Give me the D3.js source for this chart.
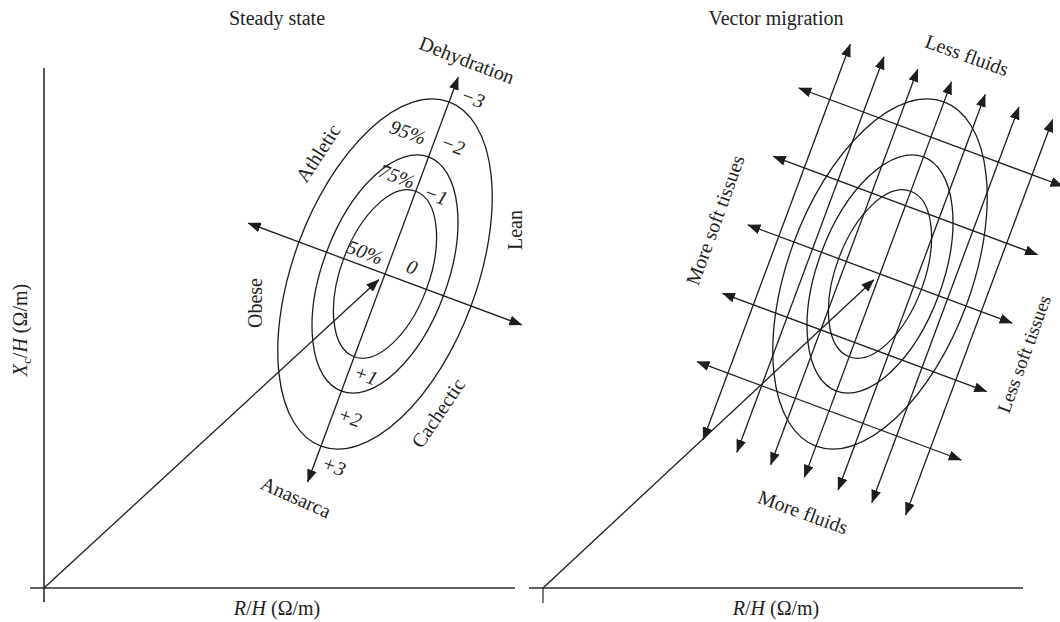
<!DOCTYPE html>
<html><head><meta charset="utf-8">
<script src="https://cdn.jsdelivr.net/npm/d3@7"></script>
<style>
body{margin:0;background:#fff}
svg{display:block}
text{font-family:"Liberation Serif","Times New Roman",serif;fill:#231f20}
</style>
</head><body><svg id="c" width="1060" height="622"></svg>
<script>
// ---------- data ----------
const panelTitles = ["Steady state", "Vector migration"];
const meanVectors = [[341, 314], [337, 314]];          // mean (R/H, Xc/H), arbitrary units
const axisTiltDeg = 20.4;                               // tilt of the major (hydration) axis
const sdMajor = 75, sdMinor = 37.5;                     // SD along major / minor axis
const ellipseLevels = ["50%", "75%", "95%"];
const ellipseRadii = [1.177, 1.665, 2.448];             // sqrt chi2(2) quantiles
const zLabels = ["\u22123", "\u22122", "\u22121", "0", "+1", "+2", "+3"];
const quadrantLabels = ["Athletic", "Lean", "Obese", "Cachectic"];
const trendLabels = ["Dehydration", "Anasarca"];
const migrationLabels = ["Less fluids", "More fluids", "More soft tissues", "Less soft tissues"];
const fluidLineOffsets = [-108, -72, -36, 0, 36, 72, 108];   // along minor axis
const tissueLineOffsets = [146, 73, 0, -73, -146];            // along major axis

// ---------- layout ----------
const svg = d3.select("#c");
const ink = "#1d1d1b";
const fs = 20;
const defs = svg.append("defs");
defs.append("marker").attr("id", "ah")
  .attr("viewBox", "0 0 13 10").attr("refX", 12.5).attr("refY", 5)
  .attr("markerWidth", 13).attr("markerHeight", 10)
  .attr("markerUnits", "userSpaceOnUse").attr("orient", "auto-start-reverse")
  .append("path").attr("d", "M0,0L13,5L0,10Z").attr("fill", ink);

const originsX = [44, 543];
const yScale = d3.scaleLinear().domain([0, 520]).range([588, 68]);
const xScales = originsX.map(o => d3.scaleLinear().domain([0, 480]).range([o, o + 480]));
const th = axisTiltDeg * Math.PI / 180;
const S = Math.sin(th), C = Math.cos(th);

function line(g, p1, p2, w, col, startArrow, endArrow) {
  const l = g.append("line").attr("x1", p1[0]).attr("y1", p1[1]).attr("x2", p2[0]).attr("y2", p2[1])
    .attr("stroke", col || ink).attr("stroke-width", w || 1.3);
  if (startArrow) l.attr("marker-start", "url(#ah)");
  if (endArrow) l.attr("marker-end", "url(#ah)");
  return l;
}
function label(g, txt, x, y, rot, italic, size) {
  return g.append("text").attr("x", x).attr("y", y)
    .attr("transform", `rotate(${rot},${x},${y})`)
    .attr("text-anchor", "middle").attr("dominant-baseline", "central")
    .attr("font-size", size || fs).attr("font-style", italic ? "italic" : "normal").text(txt);
}

panelTitles.forEach((title, i) => {
  const g = svg.append("g");
  const x = xScales[i], y = yScale;
  const k = x(1) - x(0);
  const [mx, my] = meanVectors[i];
  const cx = x(mx), cy = y(my);
  const ax = (d, p) => [cx + (d * S + p * C) * k, cy + (-d * C + p * S) * k];

  // title
  g.append("text").attr("x", x(233)).attr("y", 25).attr("text-anchor", "middle")
    .attr("font-size", fs).text(title);

  // axes
  if (i === 0) line(g, [x(0), y(520)], [x(0), y(-14)], 2, "#58585a");
  else line(g, [x(0), y(0)], [x(0), y(-15)], 1.6, "#58585a");
  line(g, [x(-14), y(0)], [x(i === 0 ? 471 : 480), y(0)], 1.6, "#2b2b2b");

  // x label
  const xl = g.append("text").attr("x", x(233)).attr("y", 615).attr("text-anchor", "middle").attr("font-size", fs);
  xl.append("tspan").attr("font-style", "italic").text("R");
  xl.append("tspan").text("/");
  xl.append("tspan").attr("font-style", "italic").text("H");
  xl.append("tspan").text(" (\u03a9/m)");

  // ellipses
  ellipseRadii.forEach(r => {
    g.append("ellipse").attr("cx", cx).attr("cy", cy)
      .attr("rx", r * sdMinor * k).attr("ry", r * sdMajor * k)
      .attr("transform", `rotate(${axisTiltDeg},${cx},${cy})`)
      .attr("fill", "none").attr("stroke", ink).attr("stroke-width", 1.3);
  });

  // impedance vector
  const f = 0.982;
  line(g, [x(0), y(0)], [x(mx * f), y(my * f)], 1.3, ink, false, true);

  if (i === 0) {
    line(g, ax(-222, 0), ax(210, 0), 1.3, ink, true, true);
    line(g, ax(0, -146), ax(0, 146), 1.3, ink, true, true);
    const rel = (dx, dy) => [cx + dx, cy + dy];
    // z-score labels
    const zOff = [[88, -176], [68, -129], [51, -79], [27, -7], [-19, 101], [-35, 143], [-51, 192]];
    zLabels.forEach((t, j) => { const p = rel(...zOff[j]); label(g, t, p[0], p[1], 20, true); });
    const pOff = [[-20, -22], [12, -98], [23, -142]];
    ellipseLevels.forEach((t, j) => { const p = rel(...pOff[j]); label(g, t, p[0], p[1], 20, true); });
    const qOff = [[[-67, -121], -57], [[130, -44], -90], [[-130, 29], -90], [[53, 139], -56]];
    quadrantLabels.forEach((t, j) => { const p = rel(...qOff[j][0]); label(g, t, p[0], p[1], qOff[j][1]); });
    const tOff = [[[82, -214], 21], [[-89, 223], 24]];
    trendLabels.forEach((t, j) => { const p = rel(...tOff[j][0]); label(g, t, p[0], p[1], tOff[j][1]); });

    // y label
    const yl = g.append("text").attr("transform", "translate(27,330) rotate(-90)")
      .attr("text-anchor", "middle").attr("font-size", fs);
    yl.append("tspan").attr("font-style", "italic").text("X");
    yl.append("tspan").attr("font-size", 13).attr("dy", 4).text("c");
    yl.append("tspan").attr("dy", -4).text("/");
    yl.append("tspan").attr("font-style", "italic").text("H");
    yl.append("tspan").text(" (\u03a9/m)");
  } else {
    fluidLineOffsets.forEach(p => line(g, ax(-217, p), ax(205, p), 1.3, ink, true, true));
    tissueLineOffsets.forEach(d => line(g, ax(d, -141), ax(d, 141), 1.3, ink, true, true));
    const rel = (dx, dy) => [cx + dx, cy + dy];
    const mOff = [[[87, -219], 20, fs], [[-77, 238], 20, fs], [[-165, -54], -70, fs], [[144, 80], -70, 19]];
    migrationLabels.forEach((t, j) => { const p = rel(...mOff[j][0]); label(g, t, p[0], p[1], mOff[j][1], false, mOff[j][2]); });
  }
});
</script></body></html>
